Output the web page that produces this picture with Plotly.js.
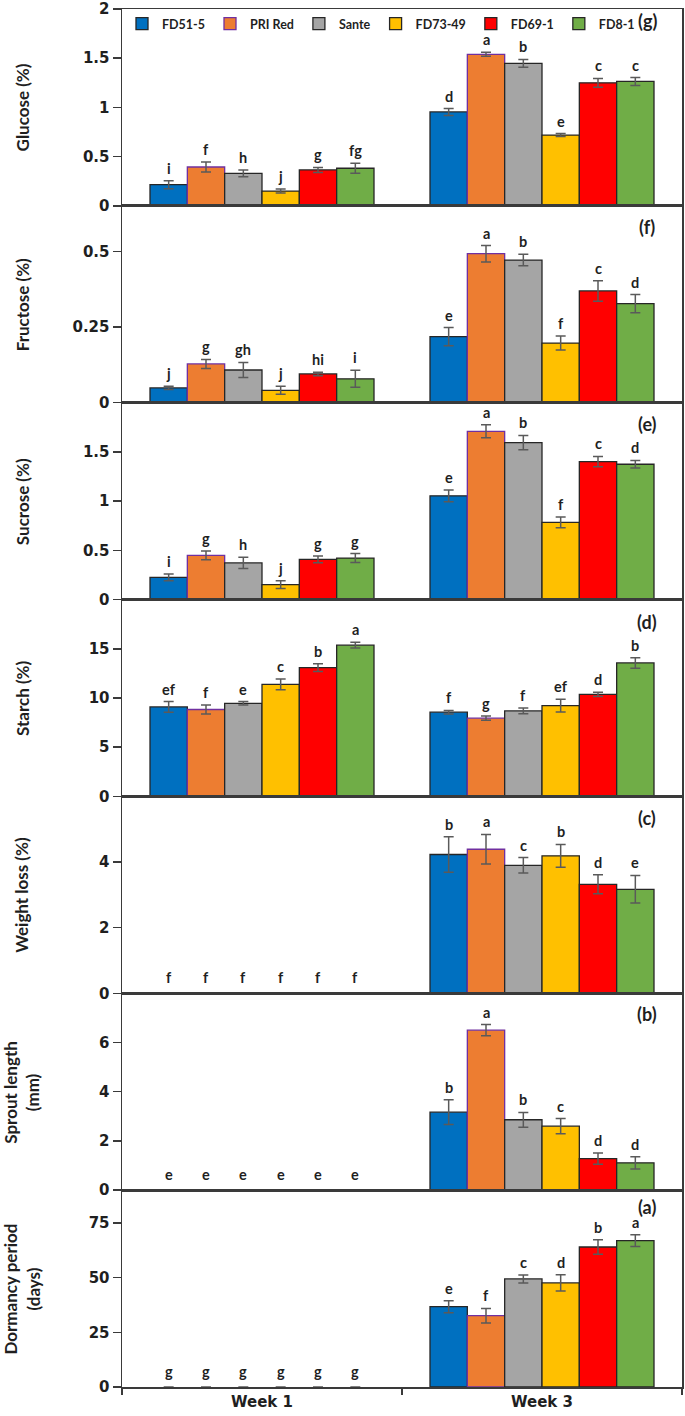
<!DOCTYPE html>
<html>
<head>
<meta charset="utf-8">
<script src="https://cdn.plot.ly/plotly-3.0.1.min.js"></script>
<style>
html,body{margin:0;padding:0;background:#fff;}
#chart{width:685px;height:1416px;}
</style>
</head>
<body>
<div id="chart"></div>
<script>
// ---------------- DATA ----------------
const cultivars = ['FD51-5', 'PRI Red', 'Sante', 'FD73-49', 'FD69-1', 'FD8-1'];
const weeks = ['Week 1', 'Week 3'];

// (g) Glucose (%)
const glucoseW1 = [0.215, 0.395, 0.33, 0.15, 0.365, 0.382];
const glucoseW3 = [0.954, 1.54, 1.448, 0.719, 1.25, 1.264];
const glucoseErrW1 = [0.04, 0.05, 0.035, 0.02, 0.025, 0.05];
const glucoseErrW3 = [0.035, 0.02, 0.04, 0.015, 0.045, 0.04];
const glucoseLetW1 = ['i', 'f', 'h', 'j', 'g', 'fg'];
const glucoseLetW3 = ['d', 'a', 'b', 'e', 'c', 'c'];

// (f) Fructose (%)
const fructoseW1 = [0.049, 0.128, 0.108, 0.041, 0.095, 0.079];
const fructoseW3 = [0.218, 0.492, 0.471, 0.197, 0.369, 0.327];
const fructoseErrW1 = [0.005, 0.015, 0.025, 0.013, 0.006, 0.028];
const fructoseErrW3 = [0.03, 0.027, 0.019, 0.023, 0.034, 0.03];
const fructoseLetW1 = ['j', 'g', 'gh', 'j', 'hi', 'i'];
const fructoseLetW3 = ['e', 'a', 'b', 'f', 'c', 'd'];

// (e) Sucrose (%)
const sucroseW1 = [0.226, 0.449, 0.372, 0.152, 0.409, 0.422];
const sucroseW3 = [1.054, 1.709, 1.595, 0.784, 1.402, 1.375];
const sucroseErrW1 = [0.034, 0.045, 0.057, 0.039, 0.034, 0.045];
const sucroseErrW3 = [0.06, 0.066, 0.073, 0.054, 0.052, 0.039];
const sucroseLetW1 = ['i', 'g', 'h', 'j', 'g', 'g'];
const sucroseLetW3 = ['e', 'a', 'b', 'f', 'c', 'd'];

// (d) Starch (%)
const starchW1 = [9.09, 8.83, 9.46, 11.38, 13.09, 15.37];
const starchW3 = [8.56, 7.95, 8.69, 9.23, 10.37, 13.56];
const starchErrW1 = [0.55, 0.45, 0.18, 0.55, 0.39, 0.29];
const starchErrW3 = [0.18, 0.22, 0.29, 0.65, 0.22, 0.54];
const starchLetW1 = ['ef', 'f', 'e', 'c', 'b', 'a'];
const starchLetW3 = ['f', 'g', 'f', 'ef', 'd', 'b'];

// (c) Weight loss (%)
const weightW1 = [0, 0, 0, 0, 0, 0];
const weightW3 = [4.23, 4.39, 3.9, 4.19, 3.32, 3.17];
const weightErrW1 = [null, null, null, null, null, null];
const weightErrW3 = [0.54, 0.45, 0.235, 0.345, 0.29, 0.42];
const weightLetW1 = ['f', 'f', 'f', 'f', 'f', 'f'];
const weightLetW3 = ['b', 'a', 'c', 'b', 'd', 'e'];

// (b) Sprout length (mm)
const sproutW1 = [0, 0, 0, 0, 0, 0];
const sproutW3 = [3.17, 6.5, 2.86, 2.6, 1.28, 1.11];
const sproutErrW1 = [null, null, null, null, null, null];
const sproutErrW3 = [0.5, 0.23, 0.3, 0.31, 0.23, 0.25];
const sproutLetW1 = ['e', 'e', 'e', 'e', 'e', 'e'];
const sproutLetW3 = ['b', 'a', 'b', 'c', 'd', 'd'];

// (a) Dormancy period (days)
const dormancyW1 = [0, 0, 0, 0, 0, 0];
const dormancyW3 = [36.7, 32.6, 49.4, 47.6, 64, 66.9];
const dormancyErrW1 = [null, null, null, null, null, null];
const dormancyErrW3 = [2.7, 3.3, 1.8, 3.7, 3.3, 2.7];
const dormancyLetW1 = ['g', 'g', 'g', 'g', 'g', 'g'];
const dormancyLetW3 = ['e', 'f', 'c', 'd', 'b', 'a'];

// axis titles, panel tags, ranges and tick values
const panelTitles = ['Glucose (%)', 'Fructose (%)', 'Sucrose (%)', 'Starch (%)', 'Weight loss (%)', 'Sprout length<br>(mm)', 'Dormancy period<br>(days)'];
const panelTags = ['(g)', '(f)', '(e)', '(d)', '(c)', '(b)', '(a)'];
const glucoseTicks = [0, 0.5, 1, 1.5, 2];
const fructoseTicks = [0, 0.25, 0.5];
const sucroseTicks = [0, 0.5, 1, 1.5];
const starchTicks = [0, 5, 10, 15];
const weightTicks = [0, 2, 4];
const sproutTicks = [0, 2, 4, 6];
const dormancyTicks = [0, 25, 50, 75];
const axisMax = [2, 0.65, 2, 20, 6, 8, 90];

// ---------------- STYLE ----------------
const colors = ['#0070C0', '#ED7D31', '#A5A5A5', '#FFC000', '#FF0000', '#70AD47'];
const outlines = ['#262626', '#7030A0', '#262626', '#262626', '#262626', '#262626'];
const axisColor = '#3a3a3a';
const textColor = '#1f1f1f';
const tagShift = [-12, -21, -21, -22, -22, -21, -17];

const panels = [
  {w1: glucoseW1, w3: glucoseW3, e1: glucoseErrW1, e3: glucoseErrW3, l1: glucoseLetW1, l3: glucoseLetW3, ticks: glucoseTicks},
  {w1: fructoseW1, w3: fructoseW3, e1: fructoseErrW1, e3: fructoseErrW3, l1: fructoseLetW1, l3: fructoseLetW3, ticks: fructoseTicks},
  {w1: sucroseW1, w3: sucroseW3, e1: sucroseErrW1, e3: sucroseErrW3, l1: sucroseLetW1, l3: sucroseLetW3, ticks: sucroseTicks},
  {w1: starchW1, w3: starchW3, e1: starchErrW1, e3: starchErrW3, l1: starchLetW1, l3: starchLetW3, ticks: starchTicks},
  {w1: weightW1, w3: weightW3, e1: weightErrW1, e3: weightErrW3, l1: weightLetW1, l3: weightLetW3, ticks: weightTicks},
  {w1: sproutW1, w3: sproutW3, e1: sproutErrW1, e3: sproutErrW3, l1: sproutLetW1, l3: sproutLetW3, ticks: sproutTicks},
  {w1: dormancyW1, w3: dormancyW3, e1: dormancyErrW1, e3: dormancyErrW3, l1: dormancyLetW1, l3: dormancyLetW3, ticks: dormancyTicks}
];

const nP = panels.length;
const bargap = 0.2;
const barW = (1 - bargap) / cultivars.length;

const traces = [];
const annotations = [];
const layout = {
  width: 685, height: 1416,
  margin: {l: 122, r: 3, t: 9, b: 29, pad: 0},
  paper_bgcolor: '#ffffff', plot_bgcolor: '#ffffff',
  barmode: 'group', bargap: bargap, bargroupgap: 0,
  showlegend: true,
  legend: {
    orientation: 'h', x: 0.0, xanchor: 'left', y: 1.0, yanchor: 'top',
    bgcolor: 'rgba(0,0,0,0)', itemwidth: 30, traceorder: 'normal',
    font: {family: 'Lato, sans-serif', size: 12.5, color: textColor, weight: 700},
    itemclick: false, itemdoubleclick: false
  },
  annotations: annotations
};

panels.forEach((p, k) => {
  const sfx = k === 0 ? '' : String(k + 1);
  const xa = 'x' + sfx, ya = 'y' + sfx;
  const top = 1 - k / nP, bot = 1 - (k + 1) / nP;
  const isBottom = k === nP - 1;

  layout['xaxis' + sfx] = {
    type: 'category', categoryarray: weeks, categoryorder: 'array',
    range: [-0.5, 1.5], anchor: ya, domain: [0, 1],
    showline: true, linecolor: axisColor, linewidth: 1.5, mirror: true,
    showgrid: false, zeroline: false, fixedrange: true,
    ticks: isBottom ? 'outside' : '', tickson: 'boundaries', ticklen: 6, tickwidth: 1.5, tickcolor: axisColor,
    showticklabels: isBottom,
    tickfont: {family: 'DejaVu Sans, sans-serif', size: 15, color: textColor, weight: 700}
  };
  layout['yaxis' + sfx] = {
    anchor: xa, domain: [bot, top], range: [0, axisMax[k]],
    tickvals: p.ticks,
    showline: true, linecolor: axisColor, linewidth: 1.5, mirror: true,
    showgrid: false, zeroline: false, fixedrange: true,
    ticks: 'outside', ticklen: 8, tickwidth: 1.5, tickcolor: axisColor,
    tickfont: {family: 'DejaVu Sans, sans-serif', size: 15, color: textColor, weight: 700}
  };

  cultivars.forEach((c, i) => {
    const ys = [p.w1[i], p.w3[i]];
    traces.push({
      type: 'bar', name: c, x: weeks, y: ys,
      xaxis: xa, yaxis: ya,
      legendgroup: c, showlegend: k === 0,
      marker: {color: colors[i], line: {color: outlines[i], width: ys.map(v => v === 0 ? 0 : 1.3)}},
      error_y: {type: 'data', array: [p.e1[i], p.e3[i]], visible: true, color: '#5a5a5a', thickness: 1.5, width: 5},
      hoverinfo: 'skip'
    });

    // significance letters
    [[p.w1, p.e1, p.l1], [p.w3, p.e3, p.l3]].forEach((set, w) => {
      const v = set[0][i], e = set[1][i] || 0;
      const xpos = w - (1 - bargap) / 2 + barW * (i + 0.5);
      const zero = v === 0;
      annotations.push({
        xref: xa, yref: ya, x: xpos, y: v + e,
        text: set[2][i], showarrow: false,
        xanchor: 'center', yanchor: zero ? 'middle' : 'bottom',
        yshift: zero ? 16 : 2,
        font: {family: 'Lato, sans-serif', size: 14.5, color: textColor, weight: 700}
      });
    });
  });

  // panel tag
  annotations.push({
    xref: 'paper', yref: 'paper', x: 0.938, y: top,
    yshift: tagShift[k], xanchor: 'center', yanchor: 'middle',
    text: panelTags[k], showarrow: false,
    font: {family: 'Lato, sans-serif', size: 18, color: textColor, weight: 700}
  });
  // y-axis title
  annotations.push({
    xref: 'paper', yref: 'paper', x: -0.1786, y: (top + bot) / 2,
    xanchor: 'center', yanchor: 'middle', textangle: -90,
    text: panelTitles[k], showarrow: false,
    font: {family: 'Lato, sans-serif', size: 17, color: textColor, weight: 700}
  });
});

Plotly.newPlot('chart', traces, layout, {displayModeBar: false, staticPlot: true});
</script>
</body>
</html>
